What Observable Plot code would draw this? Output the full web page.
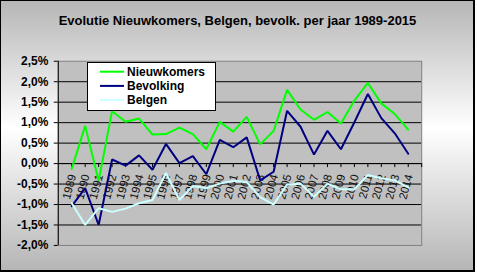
<!DOCTYPE html>
<html><head><meta charset="utf-8">
<script src="https://cdn.jsdelivr.net/npm/d3@7"></script>
<script src="https://cdn.jsdelivr.net/npm/@observablehq/plot@0.6"></script>
<style>
html,body{margin:0;padding:0;background:#fff;}
#chart{position:relative;width:475px;height:272px;box-sizing:border-box;border-top:1px solid #000;border-left:1px solid #000;border-right:2px solid #000;border-bottom:2px solid #000;background:linear-gradient(180deg,#b6b6b6 0%,#ffffff 47%,#b6b6b6 100%);font-family:"Liberation Sans",Arial,sans-serif;overflow:hidden}
#title{position:absolute;left:-1px;top:12px;width:475px;text-align:center;font-weight:bold;font-size:13px;color:#000;}
#plot{position:absolute;left:-1px;top:-1px;}
#legend{position:absolute;left:86px;top:61px;width:129px;height:49px;box-sizing:border-box;border:1px solid #000;background:#fff;}
#legend svg{display:block}
</style>
</head><body>
<div id="chart"><div id="plot"></div><div id="title"></div><div id="legend"></div></div>
<script>
const titleText = "Evolutie Nieuwkomers, Belgen, bevolk. per jaar 1989-2015";
const years = [1989,1990,1991,1992,1993,1994,1995,1996,1997,1998,1999,2000,2001,2002,2003,2004,2005,2006,2007,2008,2009,2010,2011,2012,2013,2014];
const nieuwkomers = [-0.13,0.92,-0.42,1.28,1.02,1.10,0.71,0.72,0.88,0.72,0.35,1.02,0.78,1.14,0.47,0.80,1.80,1.32,1.07,1.26,0.98,1.54,1.97,1.47,1.21,0.83];
const bevolking = [-1.04,-0.60,-1.50,0.10,-0.05,0.20,-0.15,0.48,0.01,0.18,-0.26,0.58,0.40,0.64,-0.41,-0.20,1.29,0.90,0.22,0.80,0.35,1.01,1.70,1.11,0.74,0.24];
const belgen = [-0.97,-1.50,-1.09,-1.18,-1.10,-0.97,-0.89,-0.23,-0.89,-0.55,-0.60,-0.49,-0.42,-0.45,-0.82,-1.00,-0.51,-0.49,-0.81,-0.49,-0.63,-0.63,-0.28,-0.36,-0.41,-0.58];
const seriesNames = ["Nieuwkomers","Bevolking","Belgen"];
const yTicks = [-2,-1.5,-1,-0.5,0,0.5,1,1.5,2,2.5];

const seriesValues = [nieuwkomers, bevolking, belgen];
const seriesColors = ["#00ff00","#000080","#ccffff"];
const xDomain = [years[0]-1, years[years.length-1]+1];
const yDomain = [yTicks[0], yTicks[yTicks.length-1]];
const tickYears = d3.range(xDomain[0]+1, xDomain[1]+1);
const rows = seriesNames.map((name, s) => years.map((yr, i) => ({year: yr, value: seriesValues[s][i], series: name})));
const fmt = d => d.toFixed(1).replace(".", ",") + "%";

document.getElementById("title").textContent = titleText;

const plot = Plot.plot({
  width: 475, height: 272,
  marginLeft: 58, marginRight: 52, marginTop: 61, marginBottom: 26,
  style: {background: "transparent", fontFamily: "'Liberation Sans', Arial, sans-serif", fontSize: "11px", color: "black", overflow: "visible"},
  x: {domain: xDomain, axis: null},
  y: {domain: yDomain, axis: null},
  marks: [
    Plot.frame({fill: "#c0c0c0"}),
    Plot.gridY(yTicks.filter(t => t > yDomain[0] && t < yDomain[1]), {stroke: "black", strokeOpacity: 1}),
    Plot.frame({stroke: "#808080"}),
    Plot.ruleX([xDomain[0]], {stroke: "black"}),
    Plot.axisY(yTicks, {label: null, tickSize: 4, tickPadding: 6, tickFormat: fmt, fontWeight: "bold", fontSize: 12, stroke: "black", fill: "black"}),
    Plot.ruleY([0], {stroke: "black"}),
    Plot.ruleX(tickYears, {x: d => d, y1: () => 0, y2: () => 0, insetBottom: -4, stroke: "black"}),
    Plot.text(years, {x: d => d, y: () => 0, text: d => String(d), rotate: -75, textAnchor: "end", dx: 1, dy: 11, fontSize: 11.5, fill: "#111"}),
    ...rows.map((r, s) => Plot.line(r, {x: "year", y: "value", stroke: seriesColors[s], strokeWidth: 2, strokeLinejoin: "miter"}))
  ]
});
document.getElementById("plot").appendChild(plot);

// legend
const lg = d3.select("#legend").append("svg").attr("width", 127).attr("height", 47)
  .style("font-family", "'Liberation Sans', Arial, sans-serif");
seriesNames.forEach((name, s) => {
  const cy = 8.7 + s * 14.2;
  lg.append("line").attr("x1", 12).attr("x2", 36).attr("y1", cy).attr("y2", cy)
    .attr("stroke", seriesColors[s]).attr("stroke-width", 2);
  lg.append("text").attr("x", 39).attr("y", cy + 4.3).attr("font-size", 12).attr("font-weight", "bold")
    .attr("fill", "#000").text(name);
});
</script>
</body></html>
